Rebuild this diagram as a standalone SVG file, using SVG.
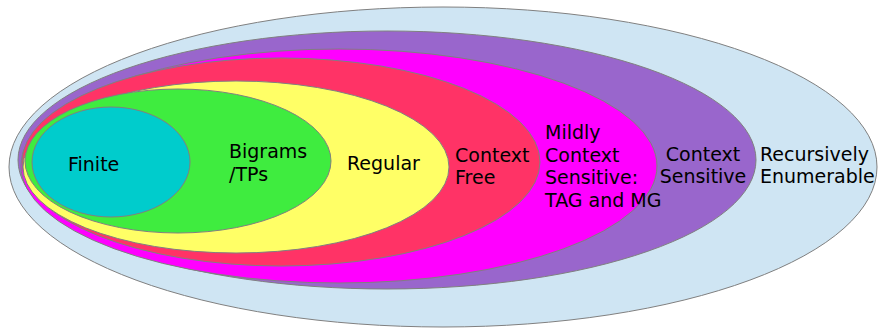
<svg xmlns="http://www.w3.org/2000/svg" width="878" height="328" viewBox="0 0 878 328">
<style>
.e{stroke:#808080;stroke-width:1}
text{font-family:"DejaVu Sans",sans-serif;font-size:19px;fill:#000}
</style>
<rect width="878" height="328" fill="#ffffff"/>
<g id="recursively-enumerable"><ellipse class="e" cx="443" cy="167" rx="434" ry="160" fill="#cfe5f3"/></g>
<g id="context-sensitive"><ellipse class="e" cx="387" cy="160" rx="369" ry="129" fill="#9966cc"/></g>
<g id="mildly-context-sensitive"><ellipse class="e" cx="339" cy="166" rx="318" ry="117" fill="#ff00ff"/></g>
<g id="context-free"><ellipse class="e" cx="281" cy="162" rx="259" ry="104" fill="#ff3366"/></g>
<g id="regular"><ellipse class="e" cx="236" cy="167" rx="213" ry="86" fill="#ffff66"/></g>
<g id="bigrams"><ellipse class="e" cx="178" cy="161" rx="153" ry="72" fill="#3fec3f"/></g>
<g id="finite"><ellipse class="e" cx="111" cy="162" rx="79" ry="55" fill="#00cccc"/></g>
<g id="labels">
<text x="68" y="171">Finite</text>
<text x="229" y="158">Bigrams</text>
<text x="229" y="181">/TPs</text>
<text x="347" y="170">Regular</text>
<text x="455" y="162">Context</text>
<text x="455" y="184">Free</text>
<text x="545" y="139">Mildly</text>
<text x="545" y="162">Context</text>
<text x="545" y="184">Sensitive:</text>
<text x="545" y="207">TAG and MG</text>
<text x="703" y="161" text-anchor="middle">Context</text>
<text x="703" y="183" text-anchor="middle">Sensitive</text>
<text x="760" y="161">Recursively</text>
<text x="760" y="183">Enumerable</text>
</g>
<g id="connectors"></g>
</svg>
